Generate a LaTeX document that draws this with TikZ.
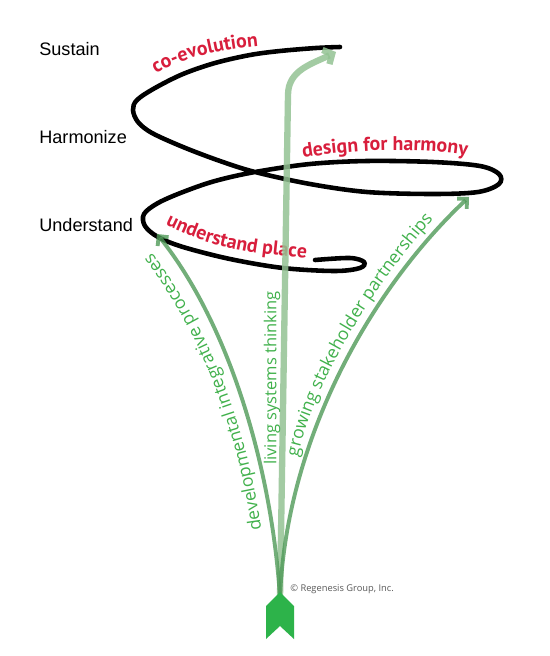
\documentclass[tikz,border=0pt]{standalone}
\usepackage{fontspec}
\setmainfont{Liberation Sans}
\newfontfamily\phasefont{PT Sans}
\newfontfamily\pathfont{Open Sans}
\usetikzlibrary{arrows.meta,decorations.text}
\definecolor{phasered}{HTML}{D81E3C}
\definecolor{stemgreen}{HTML}{4F9A58}
\definecolor{stalkgreen}{HTML}{93C393}
\definecolor{textgreen}{HTML}{41B14C}
\definecolor{fletchgreen}{HTML}{2DB34A}

\begin{document}
\begin{tikzpicture}[
  x=0.02cm, y=-0.02cm,
  level/.style={anchor=base west, inner sep=0pt, font=\fontsize{10.3}{12}\selectfont},
  spiral/.style={line width=2.6pt, line cap=round},
  stem/.style={stemgreen, opacity=.8, line width=2.2pt, -{Straight Barb[length=4pt,width=8pt]}},
  stalk/.style={stalkgreen, opacity=.85, line width=3.6pt, -{Straight Barb[length=4pt,width=9pt]}},
  phase/.style={decorate, decoration={text along path, text align=center, text color=phasered,
    text={|\phasefont\bfseries\fontsize{11.3}{11}\selectfont|#1}}},
  strand/.style={decorate, decoration={text along path, text align=center, text color=textgreen,
    text={|\pathfont\fontsize{10}{10}\selectfont|#1}}},
]
  \path[use as bounding box, fill=white] (0,0) rectangle (550,656);

  \node[level] (sustain) at (39,55) {Sustain};
  \node[level] (harmonize) at (39,143) {Harmonize};
  \node[level] (understand) at (39,231) {Understand};

  \draw[spiral] plot[smooth, tension=.55] coordinates {
    (340,47) (316,48) (280,51) (250,55) (215,63) (183,74) (155,88) (137,100)
    (133,110) (138,122) (152,133) (183,147) (220,161) (255,172) (310,184)
    (367,192) (433,194) (478,192) (499,184) (499,174) (480,166) (433,162)
    (367,161) (310,164) (255,172) (215,181) (183,192) (158,203) (144,214)
    (145,226) (158,237) (183,247) (230,259) (283,268) (335,271) (360,268)
    (364,262) (350,258) (315,260)};

  \path[phase={co-evolution}] (146,80) .. controls (175,60) and (210,50) .. (270,45);
  \path[phase={design for harmony}] (290,160) .. controls (350,149) and (420,146) .. (480,158);
  \path[phase={understand place}] (158,221) .. controls (200,244) and (245,255) .. (315,258);

  \coordinate (root) at (280,598);
  \coordinate (bend) at (288,95);
  \coordinate (stalktip) at (336,52);
  \coordinate (lefttip) at (157,234);
  \coordinate (righttip) at (469,197);

  \draw[stalk] (root) -- (bend) .. controls (288,70) and (312,64) .. (stalktip);
  \draw[stem] (root) .. controls (272,470) and (230,325) .. (lefttip);
  \draw[stem] (root) .. controls (286,440) and (370,290) .. (righttip);
  \fill[fletchgreen] (280,592) -- (294,606) -- (294,639) -- (280,626) -- (266,639) -- (266,606) -- cycle;

  \path[strand={developmental integrative processes}] (264,552) .. controls (254,455) and (218,330) .. (138,236);
  \node[rotate=90, text=textgreen, font=\pathfont\fontsize{9.4}{10}\selectfont] (living) at (272,378) {living systems thinking};
  \path[strand={growing stakeholder partnerships}] (294,485) .. controls (300,400) and (372,283) .. (452,198);

  \node[anchor=base west, inner sep=0pt, text=black!65, font=\pathfont\fontsize{5.3}{6}\selectfont] (credit) at (290,591) {© Regenesis Group, Inc.};
\end{tikzpicture}
\end{document}
